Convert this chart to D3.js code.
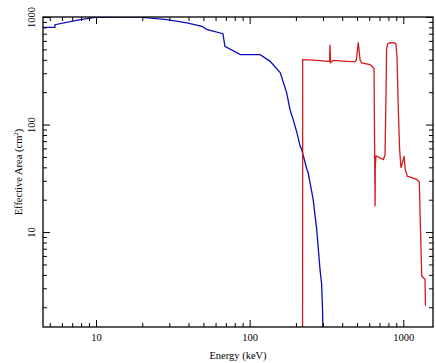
<!DOCTYPE html>
<html>
<head>
<meta charset="utf-8">
<script src="https://cdn.jsdelivr.net/npm/d3@7"></script>
<style>
  body { margin: 0; background: #fff; }
  svg text { font-family: "Liberation Serif", "Times New Roman", serif; }
</style>
</head>
<body>
<div id="chart"></div>
<script>
// energy (keV) / effective area (cm^2)
const blueE = [4.54, 5.4, 5.41, 7.9, 9.9, 14, 19.3, 29, 39, 49, 53, 67, 69, 87, 117, 136, 158, 174, 183, 192, 203, 213, 218, 236, 240, 259, 273, 287, 294, 298, 300];
const blueA = [800, 800, 848, 944, 990, 1000, 996, 944, 880, 818, 762, 700, 533, 447, 447, 387, 304, 198, 138, 111, 84, 63, 58.6, 38.2, 35.8, 20.1, 10.6, 4.5, 3.27, 1.9, 1.0];

const redE = [221, 221.4, 260, 325, 331, 333.5, 336, 349, 485, 495, 509, 523, 536, 607, 623, 645, 648, 655, 657, 664, 672, 741, 760, 772, 778, 790, 820, 870, 895, 910, 925, 945, 966, 990, 1011, 1030, 1062, 1222, 1271, 1285, 1318, 1384, 1394];
const redA = [1.0, 401, 398, 387, 385, 553, 376, 395, 382, 400, 581, 400, 374, 361, 348, 330, 120, 17.4, 40, 50.8, 50.8, 47.3, 52, 200, 500, 561, 577, 575, 565, 420, 160, 60, 39.6, 45, 50.8, 38, 33.1, 30.9, 29, 15, 3.9, 3.64, 2.06];

const xMajor = [10, 100, 1000];
const yMajor = [10, 100, 1000];

const W = 436, H = 363;
const m = {left: 43, right: 3, top: 17, bottom: 36};
const serif = '"Liberation Serif", "Times New Roman", serif';

const svg = d3.select("#chart").append("svg")
  .attr("width", W)
  .attr("height", H);

const x = d3.scaleLog().domain([4.52, 1560]).range([m.left, W - m.right]);
const y = d3.scaleLog().domain([1.31, 1000]).range([H - m.bottom, m.top]);

const minors = (lo, hi) => {
  const out = [];
  for (let d = 1; d <= 1000; d *= 10)
    for (let k = 2; k <= 9; k++) {
      const v = d * k;
      if (v >= lo && v <= hi) out.push(v);
    }
  return out;
};
const xMinor = minors(4.52, 1560);
const yMinor = minors(1.31, 1000);

svg.append("clipPath").attr("id", "plot")
  .append("rect")
  .attr("x", m.left).attr("y", m.top)
  .attr("width", W - m.left - m.right)
  .attr("height", H - m.top - m.bottom);

const line = d3.line()
  .x(d => x(d[0]))
  .y(d => y(d[1]));

const g = svg.append("g").attr("clip-path", "url(#plot)");

g.append("path")
  .datum(blueE.map((e, i) => [e, blueA[i]]))
  .attr("fill", "none")
  .attr("stroke", "#0c0cbc")
  .attr("stroke-width", 1.3)
  .attr("d", line);

g.append("path")
  .datum(redE.map((e, i) => [e, redA[i]]))
  .attr("fill", "none")
  .attr("stroke", "#d41a1a")
  .attr("stroke-width", 1.3)
  .attr("d", line);

// axes, ticks on all four sides pointing inward
const bottom = H - m.bottom, right = W - m.right;

const addAxis = (axis, tx, ty) => {
  const a = svg.append("g").attr("transform", `translate(${tx},${ty})`).call(axis);
  a.attr("font-family", serif);
  a.select(".domain").remove();
  a.selectAll("line").attr("stroke", "#000");
  return a;
};

const xb = addAxis(d3.axisBottom(x).tickValues(xMajor).tickSize(-7).tickPadding(7).tickFormat(d3.format("d")), 0, bottom);
addAxis(d3.axisBottom(x).tickValues(xMinor).tickSize(-4).tickFormat(""), 0, bottom);
addAxis(d3.axisTop(x).tickValues(xMajor).tickSize(-7).tickFormat(""), 0, m.top);
addAxis(d3.axisTop(x).tickValues(xMinor).tickSize(-4).tickFormat(""), 0, m.top);

const yl = addAxis(d3.axisLeft(y).tickValues(yMajor).tickSize(-7).tickFormat(d3.format("d")), m.left, 0);
addAxis(d3.axisLeft(y).tickValues(yMinor).tickSize(-4).tickFormat(""), m.left, 0);
addAxis(d3.axisRight(y).tickValues(yMajor).tickSize(-7).tickFormat(""), right, 0);
addAxis(d3.axisRight(y).tickValues(yMinor).tickSize(-4).tickFormat(""), right, 0);

xb.selectAll("text").attr("font-size", 10.5).attr("fill", "#000");
yl.selectAll("text")
  .attr("transform", "rotate(-90)")
  .attr("text-anchor", "middle")
  .attr("x", 0).attr("y", -8).attr("dy", 0)
  .attr("font-size", 10.5).attr("fill", "#000");

svg.append("rect")
  .attr("x", m.left).attr("y", m.top)
  .attr("width", W - m.left - m.right)
  .attr("height", H - m.top - m.bottom)
  .attr("fill", "none")
  .attr("stroke", "#000")
  .attr("stroke-width", 1.3);

svg.append("text")
  .attr("x", (m.left + right) / 2)
  .attr("y", H - 4)
  .attr("text-anchor", "middle")
  .attr("font-family", serif)
  .attr("font-size", 10.5)
  .text("Energy (keV)");

const ylab = svg.append("text")
  .attr("transform", `translate(22,${(m.top + bottom) / 2}) rotate(-90)`)
  .attr("text-anchor", "middle")
  .attr("font-family", serif)
  .attr("font-size", 10.5);
ylab.append("tspan").text("Effective Area (cm");
ylab.append("tspan").attr("dy", -4).attr("font-size", 7).text("2");
ylab.append("tspan").attr("dy", 4).text(")");
</script>
</body>
</html>
